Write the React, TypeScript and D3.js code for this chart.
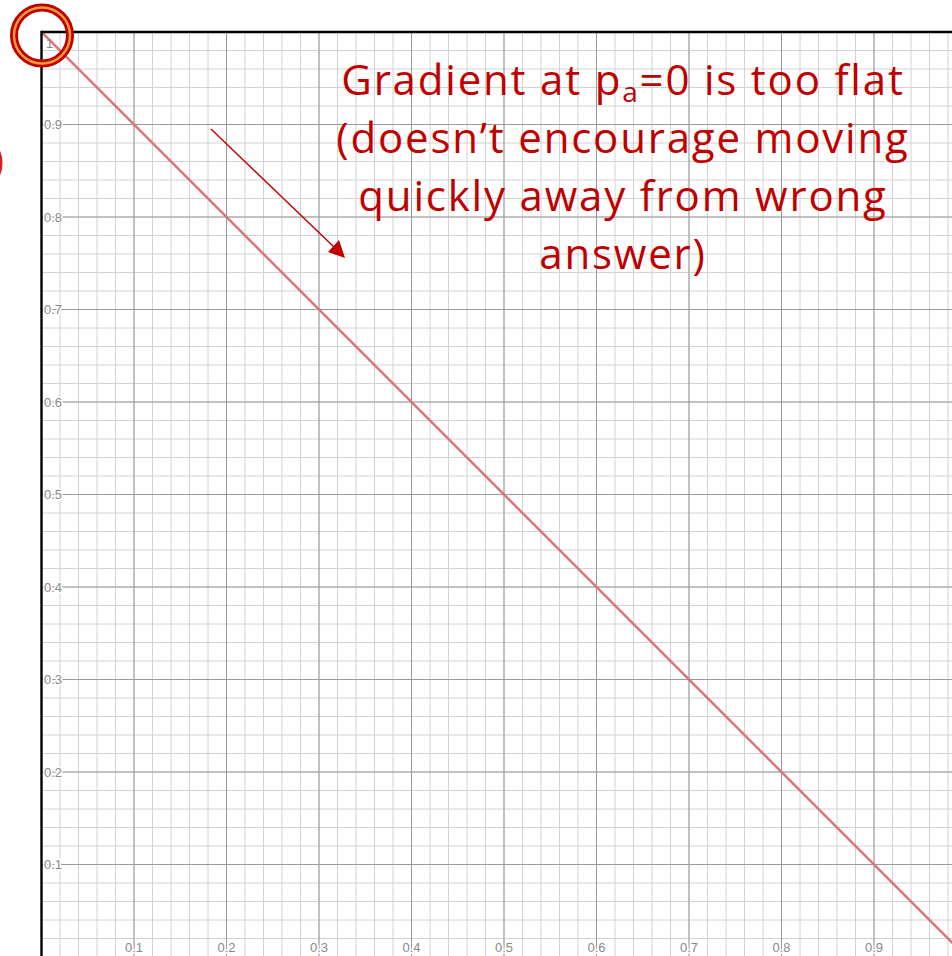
import React from "react";
import * as d3 from "d3";

// Plotted function: loss = 1 - p
const lineX = [0, 1];
const lineY = [1, 0];

const majorTicks = [0.1, 0.2, 0.3, 0.4, 0.5, 0.6, 0.7, 0.8, 0.9];
const tickLabels = ["0.1", "0.2", "0.3", "0.4", "0.5", "0.6", "0.7", "0.8", "0.9"];

const noteLines = [
  ["Gradient at p", "a", "=0 is too flat"],
  ["(doesn’t encourage moving"],
  ["quickly away from wrong"],
  ["answer)"],
];

const W = 952;
const H = 956;

export default function App() {
  const x = d3.scaleLinear().domain([0, 1]).range([41.5, 966.5]);
  const y = d3.scaleLinear().domain([0, 1]).range([957, 32]);

  const minor = d3.range(0, 52).map((i) => i / 50);
  const major = d3.range(0, 11).map((i) => i / 10);

  const line = d3
    .line<number>()
    .x((_, i) => x(lineX[i]))
    .y((d) => y(d));

  const red = "#c00000";
  const labelFont = "'Liberation Sans', Arial, sans-serif";
  const noteFont = "'Open Sans', 'Noto Sans', sans-serif";

  const left = x(0);
  const top = y(1);

  const labelProps = {
    fontFamily: labelFont,
    fontSize: 13,
    fill: "#888",
    stroke: "#fff",
    strokeWidth: 3,
    paintOrder: "stroke",
  } as const;

  return (
    <svg
      width={W}
      height={H}
      style={{ position: "fixed", left: 0, top: 0, background: "#fff" }}
    >
      <defs>
        <clipPath id="plot">
          <rect x={left} y={top} width={W - left} height={H - top} />
        </clipPath>
      </defs>
      <g clipPath="url(#plot)">
        {minor.map((v) => (
          <line key={"mx" + v} x1={x(v)} x2={x(v)} y1={top} y2={H} stroke="#d2d2d2" strokeWidth={1} />
        ))}
        {minor.map((v) => (
          <line key={"my" + v} y1={y(v)} y2={y(v)} x1={left} x2={W} stroke="#d2d2d2" strokeWidth={1} />
        ))}
        {major.map((v) => (
          <line key={"Mx" + v} x1={x(v)} x2={x(v)} y1={top} y2={H} stroke="#999" strokeWidth={1} />
        ))}
        {major.map((v) => (
          <line key={"My" + v} y1={y(v)} y2={y(v)} x1={left} x2={W} stroke="#999" strokeWidth={1} />
        ))}

        {/* tick labels */}
        {majorTicks.map((v, i) => (
          <text key={"lx" + v} x={x(v)} y={952} textAnchor="middle" {...labelProps}>
            {tickLabels[i]}
          </text>
        ))}
        {majorTicks.map((v, i) => (
          <text key={"ly" + v} x={44} y={y(v)} dy="0.35em" {...labelProps}>
            {tickLabels[i]}
          </text>
        ))}
        <text x={46} y={y(1) + 11} dy="0.35em" {...labelProps}>
          1
        </text>

        <path d={line(lineY) || ""} fill="none" stroke="#d97575" strokeWidth={2.5} />
      </g>

      {/* frame / y-axis */}
      <line x1={left} x2={left} y1={top - 1.2} y2={H} stroke="#000" strokeWidth={2.4} />
      <line x1={left} x2={W} y1={top} y2={top} stroke="#000" strokeWidth={2.4} />

      {/* annotation */}
      {noteLines.map((parts, i) => {
        const baseY = 95 + i * 58;
        return (
          <text
            key={i}
            x={623}
            y={baseY}
            fontFamily={noteFont}
            fontSize={42}
            letterSpacing={1.8}
            fill={red}
            textAnchor="middle"
          >
            {parts.length === 1 ? (
              parts[0]
            ) : (
              <>
                {parts[0]}
                <tspan dy={7} fontSize={28}>
                  {parts[1]}
                </tspan>
                <tspan dy={-7}>{parts[2]}</tspan>
              </>
            )}
          </text>
        );
      })}

      {/* arrow */}
      <line x1={211} y1={129} x2={334} y2={247} stroke={red} strokeWidth={1.4} />
      <polygon points="345,258 328,252 339,240" fill={red} />

      {/* highlight rings */}
      <circle cx={42} cy={35.5} r={28} fill="none" stroke={red} strokeWidth={8} />
      <circle cx={42} cy={35.5} r={28} fill="none" stroke="#f29a38" strokeWidth={2.5} />
      <circle cx={-29} cy={163} r={28} fill="none" stroke="#d42020" strokeWidth={7} />
    </svg>
  );
}
